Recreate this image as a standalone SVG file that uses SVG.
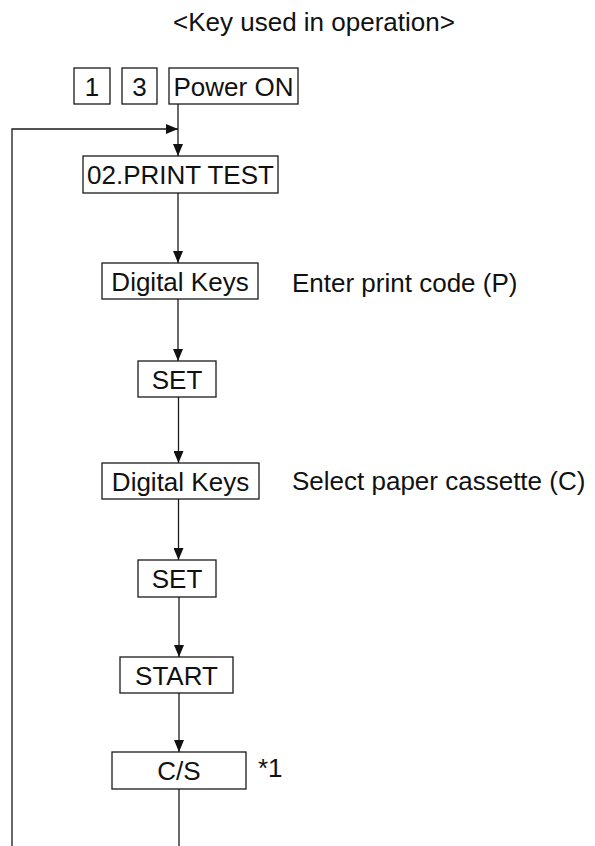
<svg xmlns="http://www.w3.org/2000/svg" width="595" height="846" viewBox="0 0 595 846">
<style>
  .box { fill: #fff; stroke: #1a1a1a; stroke-width: 1.3; }
  .t { font-family: "Liberation Sans", Arial, Helvetica, sans-serif; font-size: 26px; fill: #111; }
  .c { text-anchor: middle; }
  .ln { fill: none; stroke: #1a1a1a; stroke-width: 1.3; }
</style>
<defs>
  <marker id="ah" markerUnits="userSpaceOnUse" markerWidth="12" markerHeight="10" viewBox="0 0 12 10" refX="12" refY="5" orient="auto">
    <path d="M0,0 L12,5 L0,10 Z" fill="#111"/>
  </marker>
</defs>
<rect width="595" height="846" fill="#fff"/>
<text class="t" x="173" y="31">&lt;Key used in operation&gt;</text>

<g id="connectors">
  <line class="ln" x1="178" y1="104" x2="178" y2="156" marker-end="url(#ah)"/>
  <polyline class="ln" points="12,846 12,129 178,129" marker-end="url(#ah)"/>
  <line class="ln" x1="178" y1="193" x2="178" y2="263" marker-end="url(#ah)"/>
  <line class="ln" x1="178" y1="299" x2="178" y2="361" marker-end="url(#ah)"/>
  <line class="ln" x1="178.5" y1="397" x2="178.5" y2="463" marker-end="url(#ah)"/>
  <line class="ln" x1="178.5" y1="499" x2="178.5" y2="560" marker-end="url(#ah)"/>
  <line class="ln" x1="179" y1="597" x2="179" y2="657" marker-end="url(#ah)"/>
  <line class="ln" x1="179" y1="693" x2="179" y2="752" marker-end="url(#ah)"/>
  <line class="ln" x1="179" y1="789" x2="179" y2="846"/>
</g>

<g id="key1"><rect class="box" x="74" y="68" width="36" height="36"/><text class="t c" x="92" y="95.5">1</text></g>
<g id="key3"><rect class="box" x="122" y="68" width="35" height="36"/><text class="t c" x="139.5" y="95.5">3</text></g>
<g id="power"><rect class="box" x="169" y="68" width="129" height="36"/><text class="t c" x="233.5" y="95.5">Power ON</text></g>

<g id="printtest"><rect class="box" x="83" y="156" width="195" height="37"/><text class="t c" x="180.5" y="184">02.PRINT TEST</text></g>

<g id="digital1"><rect class="box" x="102" y="263" width="156" height="36"/><text class="t c" x="180" y="290.5">Digital Keys</text>
  <text class="t" x="292" y="291.5">Enter print code (P)</text></g>

<g id="set1"><rect class="box" x="138" y="361" width="78" height="36"/><text class="t c" x="177" y="388.5">SET</text></g>

<g id="digital2"><rect class="box" x="102" y="463" width="157" height="36"/><text class="t c" x="180.5" y="490.5">Digital Keys</text>
  <text class="t" x="292" y="490">Select paper cassette (C)</text></g>

<g id="set2"><rect class="box" x="138" y="560" width="78" height="37"/><text class="t c" x="177" y="588">SET</text></g>

<g id="start"><rect class="box" x="120" y="657" width="113" height="36"/><text class="t c" x="176.5" y="684.5">START</text></g>

<g id="cs"><rect class="box" x="112" y="752" width="134" height="37"/><text class="t c" x="179" y="780">C/S</text>
  <text class="t" x="258" y="777">*1</text></g>
</svg>
